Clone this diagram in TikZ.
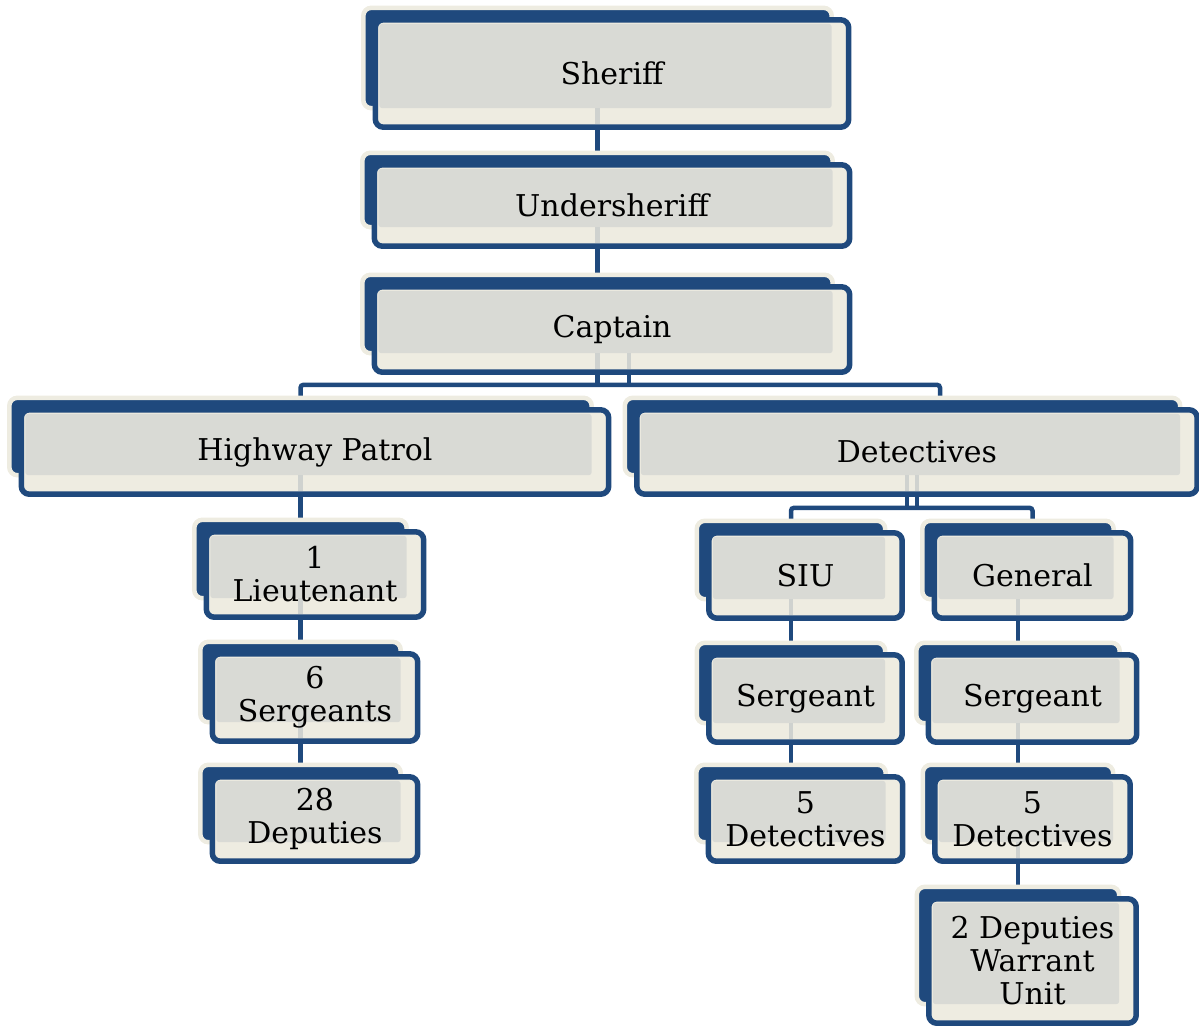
\documentclass[tikz,border=0pt]{standalone}
\usepackage{fontspec}
\setmainfont{DejaVu Serif}
\usepackage{tikz}
\usetikzlibrary{backgrounds}

\definecolor{chartblue}{HTML}{1F497D}
\definecolor{chartcream}{HTML}{EEECE1}
\definecolor{chartgrey}{HTML}{D9DAD5}
\definecolor{stubgrey}{HTML}{CFD2CF}

\tikzset{
  unit/.style={inner sep=0pt, align=center, font=\fontsize{30}{33}\selectfont},
  backbox/.style={fill=chartblue, draw=chartcream, line width=4.5pt, rounded corners=8pt},
  frontbox/.style={fill=chartcream, draw=chartblue, line width=5.5pt, rounded corners=8pt},
  greybox/.style={fill=chartgrey, rounded corners=3pt},
  link/.style={draw=chartblue, line width=4.5pt, rounded corners=3pt},
  stub/.style={draw=stubgrey, line width=4.5pt}
}

\begin{document}
\begin{tikzpicture}[x=1pt,y=-1pt]
\useasboundingbox (0,0) rectangle (1199,1026);

% top of the chart
\node[unit, minimum width=473, minimum height=107] (sheriff) at (612,73.5) {Sheriff};
\node[unit, minimum width=475, minimum height=81] (under) at (612,205.5) {Undersheriff};
\node[unit, minimum width=475, minimum height=85] (captain) at (612,329.5) {Captain};
\node[unit, minimum width=587, minimum height=84] (hp) at (315,452) {Highway Patrol};
\node[unit, minimum width=560, minimum height=84] (det) at (917,452) {Detectives};
% highway patrol
\node[unit, minimum width=217, minimum height=85] (lieut) at (315,574.5) {1\\Lieutenant};
\node[unit, minimum width=205, minimum height=87] (sgts) at (315,697.5) {6\\Sergeants};
\node[unit, minimum width=205, minimum height=84] (deps) at (315,819) {28\\Deputies};
% detectives
\node[unit, minimum width=193, minimum height=85] (siu) at (805.5,575.5) {SIU};
\node[unit, minimum width=196, minimum height=85] (gen) at (1032.5,575.5) {General};
\node[unit, minimum width=193, minimum height=87] (sgtl) at (805.5,698.5) {Sergeant};
\node[unit, minimum width=208, minimum height=87] (sgtr) at (1032.5,698.5) {Sergeant};
\node[unit, minimum width=194, minimum height=84] (detl) at (805.5,819) {5\\Detectives};
\node[unit, minimum width=195, minimum height=84] (detr) at (1032.5,819) {5\\Detectives};
\node[unit, minimum width=207, minimum height=124] (warrant) at (1032.5,961) {2 Deputies\\Warrant\\Unit};

\begin{scope}[on background layer]
% connectors
\draw[link] ([xshift=-14.5pt]sheriff.south) -- ([xshift=-14.5pt]under.north);
\draw[link] ([xshift=-14.5pt]under.south) -- ([xshift=-14.5pt]captain.north);
\draw[link] ([xshift=-14.5pt]captain.south) -- ++(0,13);
\draw[link] ([xshift=17pt]captain.south) -- ++(0,13);
\draw[link] ([xshift=-14.5pt]hp.north) -- ++(0,-25) -| ([xshift=23pt]det.north);
\draw[link] ([xshift=-14.5pt]hp.south) -- ([xshift=-14.5pt]lieut.north);
\draw[link] ([xshift=-14.5pt]lieut.south) -- ([xshift=-14.5pt]sgts.north);
\draw[link] ([xshift=-14.5pt]sgts.south) -- ([xshift=-14.5pt]deps.north);
\draw[link] ([xshift=-10pt]det.south) -- ++(0,14);
\draw[link] (det.south) -- ++(0,14);
\draw[link] ([xshift=-14.5pt]siu.north) -- ++(0,-25) -| (gen.north);
\draw[link] ([xshift=-14.5pt]siu.south) -- ([xshift=-14.5pt]sgtl.north);
\draw[link] ([xshift=-14.5pt]sgtl.south) -- ([xshift=-14.5pt]detl.north);
\draw[link] ([xshift=-14.5pt]gen.south) -- ([xshift=-14.5pt]sgtr.north);
\draw[link] ([xshift=-14.5pt]sgtr.south) -- ([xshift=-14.5pt]detr.north);
\draw[link] ([xshift=-14.5pt]detr.south) -- ([xshift=-14.5pt]warrant.north);
% boxes
\foreach \n in {sheriff,under,captain,hp,det,lieut,sgts,deps,siu,gen,sgtl,sgtr,detl,detr,warrant}{
  \draw[backbox] ([shift={(-12,-12)}]\n.north west) rectangle ([shift={(-17,-19)}]\n.south east);
  \draw[frontbox] (\n.north west) rectangle (\n.south east);
  \fill[greybox] ([shift={(4,4)}]\n.north west) rectangle ([shift={(-17,-19)}]\n.south east);
}
% light ends of the connectors inside the boxes
\foreach \n/\dx in {sheriff/-14.5,under/-14.5,captain/-14.5,captain/17,hp/-14.5,lieut/-14.5,sgts/-14.5,
  det/-10,det/0,siu/-14.5,gen/-14.5,sgtl/-14.5,sgtr/-14.5,detr/-14.5}
  \draw[stub] ([shift={(\dx,-19)}]\n.south) -- ([shift={(\dx,-3)}]\n.south);
\end{scope}
\end{tikzpicture}
\end{document}
